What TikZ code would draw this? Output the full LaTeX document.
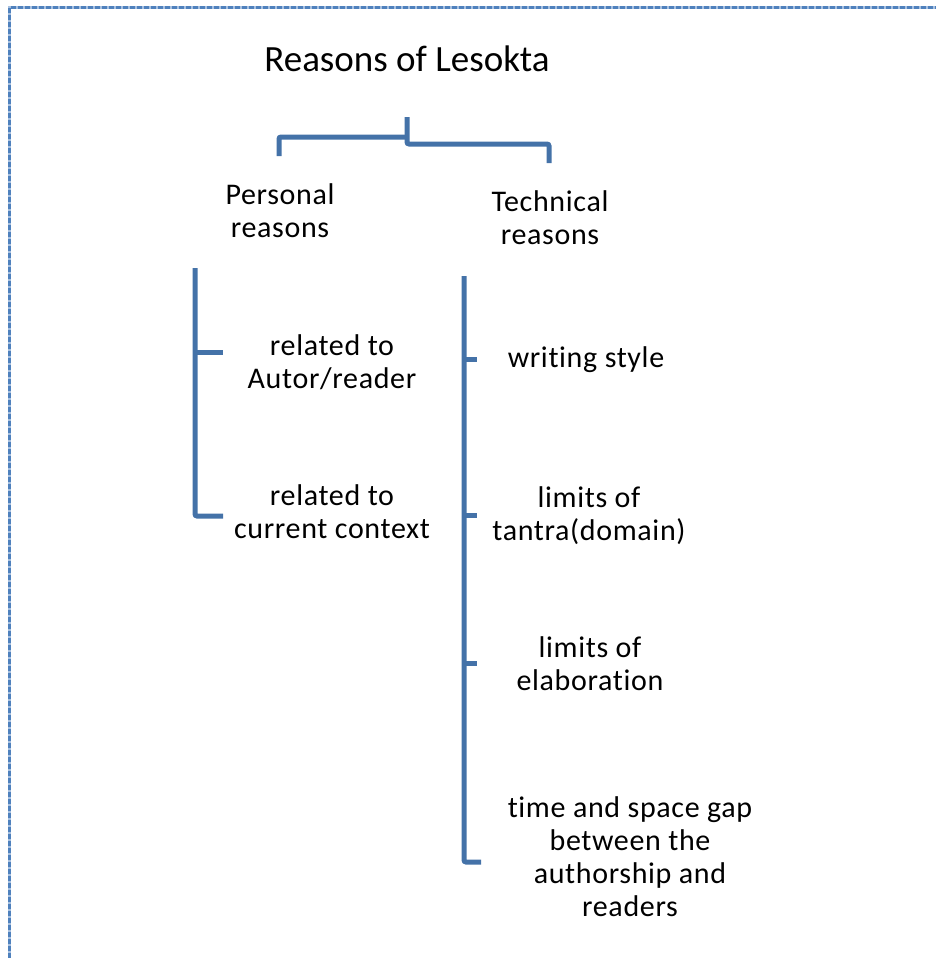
\documentclass[tikz,border=0pt]{standalone}
\usepackage{fontspec}
\setmainfont{Carlito}[Ligatures={NoCommon,NoContextual}]
\newfontfamily\bodyfont{Carlito}[Ligatures={NoCommon,NoContextual},LetterSpace=2.2]
\definecolor{brace}{HTML}{4472A8}
\definecolor{frameblue}{HTML}{4F81BD}
\definecolor{framelight}{HTML}{A7C0E0}
\begin{document}
\begin{tikzpicture}[x=1pt,y=-1pt,
  label/.style={font=\bodyfont\fontsize{30}{33}\selectfont, align=center, anchor=base, inner sep=0pt},
  titletext/.style={font=\fontsize{37}{44}\selectfont, anchor=base, inner sep=0pt},
  bracket/.style={draw=brace, line width=5pt, rounded corners=2pt},
  frameline/.style={line width=3pt}]
\useasboundingbox (0,0) rectangle (936,958);
% page frame (top and left edges only)
\draw[frameline, draw=framelight] (9,958) -- (9,8) -- (936,8);
\draw[frameline, draw=frameblue, dash pattern=on 5pt off 2pt] (9,958) -- (9,8) -- (936,8);

% title and the two branches (base = baseline of the last line)
\node[titletext] (title) at (407,71) {Reasons of Lesokta};
\node[label] (personal) at (280,237) {Personal\\reasons};
\node[label] (technical) at (550,244) {Technical\\reasons};

% top bracket
\coordinate (topstub) at (407,117);
\coordinate (lft) at (279,156);
\coordinate (rgt) at (549,163);
\draw[bracket] (lft) -- (279,137) -- (407,137);
\draw[bracket] (topstub) -- (407,144) -- (549,144) -- (rgt);

% personal reasons
\node[label] (autor) at (332,388) {related to\\Autor/reader};
\node[label] (context) at (332,538) {related to\\current context};
\coordinate (ptop) at (195,268);
\coordinate (pmid) at (223,352);
\coordinate (pbot) at (223,516);
\draw[bracket] (ptop) -- (195,516) -- (pbot);
\draw[bracket] (195,352) -- (pmid);

% technical reasons
\node[label] (writing) at (586,367) {writing style};
\node[label] (tantra) at (589,540) {limits of\\tantra(domain)};
\node[label] (elab) at (590,690) {limits of\\elaboration};
\node[label] (gap) at (630,916) {time and space gap\\between the\\authorship and\\readers};
\coordinate (ttop) at (464,276);
\coordinate (t1) at (477,359);
\coordinate (t2) at (477,515);
\coordinate (t3) at (477,663);
\coordinate (t4) at (481,862);
\draw[bracket] (ttop) -- (464,862) -- (t4);
\draw[bracket] (464,359) -- (t1);
\draw[bracket] (464,515) -- (t2);
\draw[bracket] (464,663) -- (t3);
\end{tikzpicture}
\end{document}
